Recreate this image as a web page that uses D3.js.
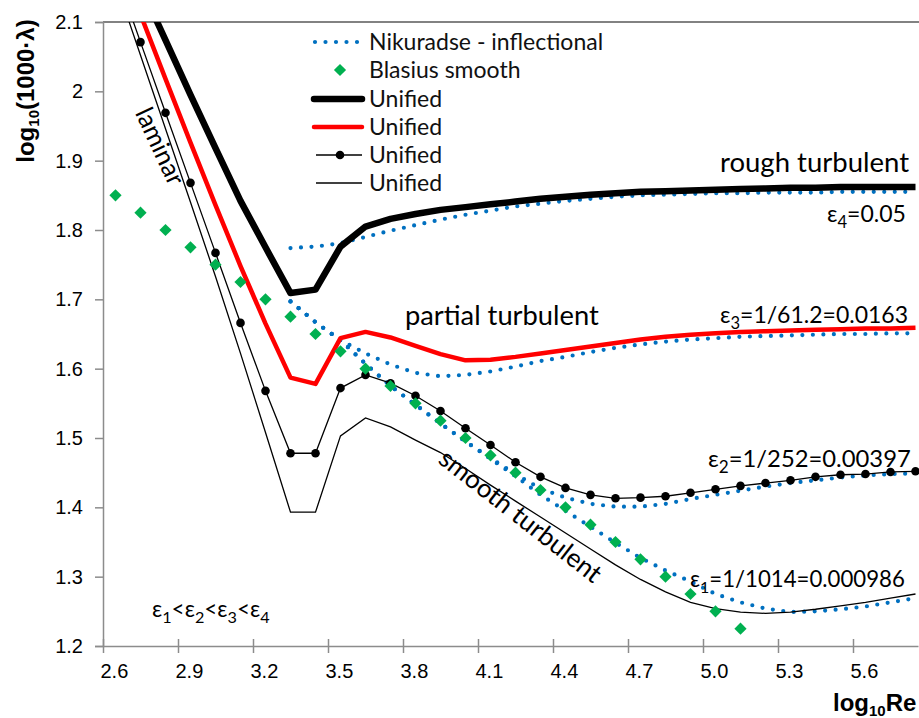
<!DOCTYPE html>
<html>
<head>
<meta charset="utf-8">
<script src="https://cdn.jsdelivr.net/npm/d3@7"></script>
<style>
  body { margin: 0; background: #fff; }
  svg { display: block; }
</style>
</head>
<body>
<script>
// log10(Re) grid shared by the unified curves
const xs = [2.65, 2.75, 2.85, 2.95, 3.05, 3.15, 3.25, 3.35, 3.45, 3.55, 3.65, 3.75, 3.85, 3.95, 4.05, 4.15, 4.25,
  4.35, 4.45, 4.55, 4.65, 4.75, 4.85, 4.95, 5.05, 5.15, 5.25, 5.35, 5.45, 5.55, 5.65, 5.75, 5.85];

// unified curves, log10(1000·λ)
const unified4 = [2.23, 2.152, 2.074, 1.995, 1.918, 1.842, 1.775, 1.709, 1.714, 1.776, 1.805, 1.816, 1.823, 1.829, 1.833, 1.837, 1.841,
  1.845, 1.848, 1.851, 1.853, 1.855, 1.856, 1.857, 1.858, 1.859, 1.860, 1.861, 1.861, 1.862, 1.862, 1.862, 1.862];
const unified3 = [2.207, 2.111, 2.018, 1.926, 1.836, 1.748, 1.665, 1.587, 1.578, 1.644, 1.653, 1.645, 1.633, 1.621, 1.612, 1.613, 1.617,
  1.622, 1.627, 1.632, 1.637, 1.642, 1.646, 1.649, 1.651, 1.653, 1.654, 1.655, 1.656, 1.657, 1.658, 1.658, 1.659];
const unified2 = [2.173, 2.071, 1.969, 1.868, 1.767, 1.666, 1.568, 1.478, 1.478, 1.572, 1.591, 1.579, 1.561, 1.539, 1.514, 1.490, 1.465,
  1.444, 1.428, 1.418, 1.413, 1.414, 1.416, 1.421, 1.426, 1.431, 1.435, 1.439, 1.444, 1.447, 1.448, 1.451, 1.452];
const unified1 = [2.158, 2.052, 1.946, 1.840, 1.733, 1.622, 1.508, 1.393, 1.393, 1.503, 1.529, 1.516, 1.497, 1.479, 1.456, 1.432, 1.409,
  1.386, 1.363, 1.340, 1.317, 1.296, 1.278, 1.263, 1.254, 1.249, 1.247, 1.249, 1.253, 1.258, 1.263, 1.269, 1.275];

// Nikuradse inflectional curves start at log10Re = 3.35
const nikX = [3.35, 3.45, 3.55, 3.65, 3.75, 3.85, 3.95, 4.05, 4.15, 4.25, 4.35, 4.45, 4.55, 4.65, 4.75, 4.85, 4.95,
  5.05, 5.15, 5.25, 5.35, 5.45, 5.55, 5.65, 5.75, 5.85];
const nik4 = [1.774, 1.776, 1.781, 1.790, 1.799, 1.807, 1.815, 1.822, 1.828, 1.834, 1.838, 1.842, 1.845, 1.848, 1.850, 1.851, 1.852,
  1.853, 1.853, 1.854, 1.854, 1.854, 1.855, 1.855, 1.855, 1.855];
const nik3 = [1.697, 1.667, 1.641, 1.622, 1.606, 1.594, 1.589, 1.591, 1.596, 1.603, 1.611, 1.617, 1.624, 1.630, 1.635, 1.639, 1.642,
  1.644, 1.646, 1.647, 1.648, 1.649, 1.650, 1.650, 1.651, 1.651];
const nik2 = [1.697, 1.667, 1.641, 1.607, 1.575, 1.548, 1.521, 1.495, 1.471, 1.448, 1.427, 1.414, 1.405, 1.401, 1.401, 1.405, 1.412,
  1.418, 1.424, 1.430, 1.435, 1.439, 1.443, 1.446, 1.448, 1.449];
const nik1 = [1.697, 1.667, 1.641, 1.607, 1.575, 1.548, 1.521, 1.495, 1.470, 1.445, 1.418, 1.395, 1.372, 1.349, 1.327, 1.309, 1.293,
  1.275, 1.263, 1.254, 1.249, 1.250, 1.253, 1.257, 1.263, 1.269];

// Blasius smooth points
const blasiusX = [2.65, 2.75, 2.85, 2.95, 3.05, 3.15, 3.25, 3.35, 3.45, 3.55, 3.65, 3.75, 3.85, 3.95, 4.05, 4.15, 4.25,
  4.35, 4.45, 4.55, 4.65, 4.75, 4.85, 4.95, 5.05, 5.15];
const blasius = [1.85, 1.825, 1.80, 1.775, 1.75, 1.725, 1.70, 1.675, 1.65, 1.625, 1.60, 1.575, 1.55, 1.525, 1.50, 1.475, 1.45,
  1.425, 1.40, 1.375, 1.35, 1.325, 1.30, 1.275, 1.25, 1.225];

const xTicks = [2.6, 2.9, 3.2, 3.5, 3.8, 4.1, 4.4, 4.7, 5.0, 5.3, 5.6];
const yTicks = [1.2, 1.3, 1.4, 1.5, 1.6, 1.7, 1.8, 1.9, 2.0, 2.1];

const legendLabels = ['Nikuradse - inflectional', 'Blasius smooth', 'Unified', 'Unified', 'Unified', 'Unified'];

const w = 919, h = 718;
const plot = { left: 103, right: 918, top: 22, bottom: 646 };
const BLUE = '#0070C0', GREEN = '#00B050', RED = '#FF0000';
const sans = '"Liberation Sans", Arial, sans-serif';
const cal = 'Lato, "Open Sans", sans-serif';

const x = d3.scaleLinear().domain([2.6, 5.86]).range([plot.left, plot.right]);
const y = d3.scaleLinear().domain([1.2, 2.1]).range([plot.bottom, plot.top]);

const svg = d3.select('body').append('svg').attr('width', w).attr('height', h);

svg.append('clipPath').attr('id', 'clip')
  .append('rect')
  .attr('x', plot.left).attr('y', plot.top)
  .attr('width', w - plot.left).attr('height', plot.bottom - plot.top);

// top border of the plot area
svg.append('line')
  .attr('x1', plot.left).attr('x2', w)
  .attr('y1', plot.top).attr('y2', plot.top)
  .attr('stroke', '#595959').attr('stroke-width', 1.5);

// Y axis
const yAxis = svg.append('g')
  .attr('transform', `translate(${plot.left},0)`)
  .call(d3.axisLeft(y).tickValues(yTicks).tickSize(8).tickPadding(12).tickFormat(d3.format('~g')));
yAxis.select('.domain').attr('stroke', '#8c8c8c').attr('stroke-width', 1.5);
yAxis.selectAll('.tick line').attr('stroke', '#8c8c8c').attr('stroke-width', 1.5);
yAxis.selectAll('.tick text').attr('font-family', sans).attr('font-size', 20).attr('fill', '#000');

// X axis, ticks cross the axis line and labels sit just right of each tick
const xAxis = svg.append('g')
  .attr('transform', `translate(0,${plot.bottom})`)
  .call(d3.axisBottom(x).tickValues(xTicks).tickSizeOuter(0).tickFormat(d3.format('.1f')));
xAxis.select('.domain').attr('stroke', '#8c8c8c').attr('stroke-width', 1.5);
xAxis.selectAll('.tick line').attr('y1', -7).attr('y2', 7).attr('stroke', '#8c8c8c').attr('stroke-width', 1.5);
xAxis.selectAll('.tick text')
  .attr('font-family', sans).attr('font-size', 20).attr('fill', '#000')
  .attr('text-anchor', 'start').attr('x', -3).attr('y', 18).attr('dy', '0.71em');

// axis titles
const yTitle = svg.append('text')
  .attr('transform', 'translate(34,91) rotate(-90)')
  .attr('text-anchor', 'middle')
  .attr('font-family', sans).attr('font-size', 24).attr('font-weight', 'bold');
yTitle.append('tspan').text('log');
yTitle.append('tspan').attr('font-size', 15).attr('dy', 5).text('10');
yTitle.append('tspan').attr('dy', -5).text('(1000·λ)');

const xTitle = svg.append('text')
  .attr('x', 833).attr('y', 711)
  .attr('font-family', sans).attr('font-size', 24).attr('font-weight', 'bold');
xTitle.append('tspan').text('log');
xTitle.append('tspan').attr('font-size', 15).attr('dy', 5).text('10');
xTitle.append('tspan').attr('dy', -5).text('Re');

// curves
const g = svg.append('g').attr('clip-path', 'url(#clip)');
const line = d3.line().x(d => x(d[0])).y(d => y(d[1]));
const pairs = (xv, yv) => xv.map((v, i) => [v, yv[i]]);

const dotted = { stroke: BLUE, width: 4.2, dash: '0 10.5' };
[nik4, nik3, nik2, nik1].forEach(series => {
  g.append('path')
    .attr('d', line(pairs(nikX, series)))
    .attr('fill', 'none')
    .attr('stroke', dotted.stroke)
    .attr('stroke-width', dotted.width)
    .attr('stroke-linecap', 'round')
    .attr('stroke-dasharray', dotted.dash);
});

g.append('path').attr('d', line(pairs(xs, unified1)))
  .attr('fill', 'none').attr('stroke', '#000').attr('stroke-width', 1.3);
g.append('path').attr('d', line(pairs(xs, unified2)))
  .attr('fill', 'none').attr('stroke', '#000').attr('stroke-width', 1.3);
g.selectAll('.mark')
  .data(pairs(xs, unified2))
  .enter().append('circle')
  .attr('class', 'mark')
  .attr('cx', d => x(d[0])).attr('cy', d => y(d[1]))
  .attr('r', 4.3).attr('fill', '#000');
g.append('path').attr('d', line(pairs(xs, unified3)))
  .attr('fill', 'none').attr('stroke', RED).attr('stroke-width', 4.5).attr('stroke-linejoin', 'round');
g.append('path').attr('d', line(pairs(xs, unified4)))
  .attr('fill', 'none').attr('stroke', '#000').attr('stroke-width', 6.5).attr('stroke-linejoin', 'round');

const diamond = d3.symbol().type(d3.symbolDiamond2).size(95);
g.selectAll('.bl')
  .data(pairs(blasiusX, blasius))
  .enter().append('path')
  .attr('class', 'bl')
  .attr('d', diamond)
  .attr('transform', d => `translate(${x(d[0])},${y(d[1])})`)
  .attr('fill', GREEN);

// legend
const lg = svg.append('g');
const rowY = [42, 70, 99, 127, 155, 183];
lg.selectAll('text')
  .data(legendLabels)
  .enter().append('text')
  .attr('x', 369).attr('y', (d, i) => rowY[i]).attr('dy', '0.35em')
  .attr('font-family', cal).attr('font-size', 23).attr('fill', '#111')
  .text(d => d);
lg.append('line').attr('x1', 315).attr('x2', 361).attr('y1', rowY[0]).attr('y2', rowY[0])
  .attr('stroke', BLUE).attr('stroke-width', dotted.width).attr('stroke-linecap', 'round').attr('stroke-dasharray', dotted.dash);
lg.append('path').attr('d', diamond).attr('transform', `translate(340,${rowY[1]})`).attr('fill', GREEN);
lg.append('line').attr('x1', 314).attr('x2', 362).attr('y1', rowY[2]).attr('y2', rowY[2])
  .attr('stroke', '#000').attr('stroke-width', 6.5).attr('stroke-linecap', 'round');
lg.append('line').attr('x1', 314).attr('x2', 362).attr('y1', rowY[3]).attr('y2', rowY[3])
  .attr('stroke', RED).attr('stroke-width', 4.5).attr('stroke-linecap', 'round');
lg.append('line').attr('x1', 316).attr('x2', 362).attr('y1', rowY[4]).attr('y2', rowY[4])
  .attr('stroke', '#000').attr('stroke-width', 1.3);
lg.append('circle').attr('cx', 340).attr('cy', rowY[4]).attr('r', 4.3).attr('fill', '#000');
lg.append('line').attr('x1', 316).attr('x2', 362).attr('y1', rowY[5]).attr('y2', rowY[5])
  .attr('stroke', '#000').attr('stroke-width', 1.3);

// annotations; {sub: '1'} parts become lowered subscripts
function note(px, py, parts, size, rot) {
  const t = svg.append('text')
    .attr('font-family', cal).attr('font-size', size).attr('fill', '#000');
  if (rot) {
    t.attr('transform', `translate(${px},${py}) rotate(${rot})`).attr('text-anchor', 'middle');
  } else {
    t.attr('x', px).attr('y', py);
  }
  let lowered = false;
  parts.forEach(p => {
    if (typeof p === 'object') {
      t.append('tspan').attr('font-size', size * 0.72).attr('dy', size * 0.25).text(p.sub);
      lowered = true;
    } else {
      const s = t.append('tspan').text(p);
      if (lowered) { s.attr('dy', -size * 0.25); lowered = false; }
    }
  });
  return t;
}

note(720, 172, ['rough turbulent'], 27.5);
note(405, 325, ['partial turbulent'], 27.3);
note(827, 222, ['ε', { sub: '4' }, '=0.05'], 23);
note(720, 323, ['ε', { sub: '3' }, '=1/61.2=0.0163'], 23);
note(708, 467, ['ε', { sub: '2' }, '=1/252=0.00397'], 23.8);
note(690, 587, ['ε', { sub: '1' }, '=1/1014=0.000986'], 22.2);
note(152, 617, ['ε', { sub: '1' }, '<ε', { sub: '2' }, '<ε', { sub: '3' }, '<ε', { sub: '4' }], 22.5);
note(152, 150, ['laminar'], 25.5, 65);
note(515, 523, ['smooth turbulent'], 26, 38);
</script>
</body>
</html>
